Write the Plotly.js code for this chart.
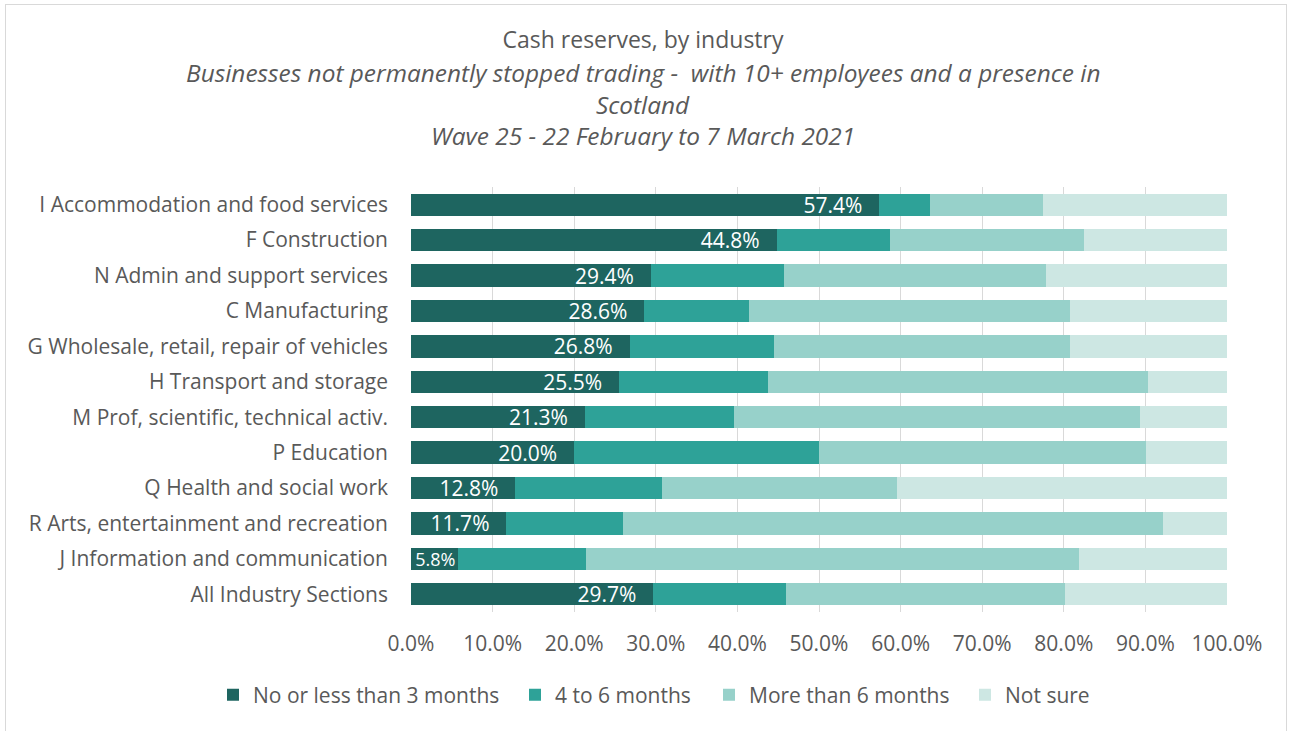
<!DOCTYPE html>
<html>
<head>
<meta charset="utf-8">
<script src="https://cdn.plot.ly/plotly-3.0.1.min.js"></script>
<style>
  html, body { margin: 0; padding: 0; background: #ffffff; overflow: hidden; }
  #frame { position: absolute; left: 5px; top: 4px; width: 1282px; height: 740px; border: 1px solid #d9d9d9; box-sizing: border-box; }
  #chart { position: absolute; left: 0; top: 0; width: 1292px; height: 731px; }
</style>
</head>
<body>
<div id="frame"></div>
<div id="chart"></div>
<script>
const categories = [
  "I Accommodation and food services",
  "F Construction",
  "N Admin and support services",
  "C Manufacturing",
  "G Wholesale, retail, repair of vehicles",
  "H Transport and storage",
  "M Prof, scientific, technical activ.",
  "P Education",
  "Q Health and social work",
  "R Arts, entertainment and recreation",
  "J Information and communication",
  "All Industry Sections"
];
const seriesNames = ["No or less than 3 months", "4 to 6 months", "More than 6 months", "Not sure"];
const lessThan3 = [57.4, 44.8, 29.4, 28.6, 26.8, 25.5, 21.3, 20.0, 12.8, 11.7, 5.8, 29.7];
const fourToSix = [6.2, 13.9, 16.3, 12.8, 17.7, 18.3, 18.3, 30.0, 17.9, 14.3, 15.6, 16.3];
const moreThan6 = [13.8, 23.8, 32.1, 39.3, 36.2, 46.5, 49.7, 40.1, 28.9, 66.2, 60.5, 34.2];
const notSure  = [22.6, 17.5, 22.2, 19.3, 19.3, 9.7, 10.7, 9.9, 40.4, 7.8, 18.1, 19.8];
const xTicks = [0, 10, 20, 30, 40, 50, 60, 70, 80, 90, 100];

const colors = ["#1e6560", "#2ea298", "#97d1ca", "#cde7e3"];
const FONT = "'Open Sans', Lato, sans-serif";
const GREY = "#595959";
const legendLeft = [213, 515, 709, 965];
const legendIds = ["legend", "legend2", "legend3", "legend4"];

const values = [lessThan3, fourToSix, moreThan6, notSure];
const traces = values.map((v, i) => {
  const t = {
    type: "bar",
    orientation: "h",
    name: seriesNames[i],
    legend: legendIds[i],
    y: categories,
    x: v,
    marker: { color: colors[i], line: { width: 0 } },
    hoverinfo: "x+name",
    cliponaxis: false
  };
  if (i === 0) {
    // label padded from the bar end, except where the bar is too short
    t.texttemplate = v.map(x => x < 8 ? "%{x:.1f}%" : "%{x:.1f}%\u2002\u2009");
    t.textposition = "inside";
    t.insidetextanchor = "end";
    t.constraintext = "none";
    t.textfont = { color: "#ffffff", size: v.map(x => x < 8 ? 18 : 21), family: FONT };
  } else {
    t.textposition = "none";
  }
  return t;
});

const layout = {
  width: 1292,
  height: 731,
  paper_bgcolor: "rgba(0,0,0,0)",
  plot_bgcolor: "rgba(0,0,0,0)",
  margin: { l: 411, r: 65, t: 187, b: 119, pad: 0 },
  barmode: "stack",
  bargap: 0.37,
  font: { family: FONT, color: GREY, size: 20 },
  title: {
    text: "Cash reserves, by industry",
    font: { family: FONT, size: 23, color: GREY },
    x: 643 / 1292, xanchor: "center", xref: "container",
    y: 1 - 40 / 731, yanchor: "middle", yref: "container"
  },
  annotations: [
    { text: "<i>Businesses not permanently stopped trading -  with 10+ employees and a presence in</i>", y: (612 - 72) / 425 },
    { text: "<i>Scotland</i>", y: (612 - 104) / 425 },
    { text: "<i>Wave 25 - 22 February to 7 March 2021</i>", y: (612 - 136) / 425 }
  ].map(a => Object.assign({
    xref: "paper", yref: "paper", x: (643 - 411) / 816, xanchor: "center", yanchor: "middle",
    showarrow: false, font: { family: FONT, size: 24.4, color: GREY }
  }, a)),
  xaxis: {
    range: [0, 100],
    tickvals: xTicks,
    ticktext: xTicks.map(v => v.toFixed(1) + "%"),
    showgrid: true,
    gridcolor: "#d9d9d9",
    gridwidth: 1,
    zeroline: false,
    showline: false,
    ticks: "",
    ticklabelstandoff: 17,
    tickfont: { family: FONT, size: 21, color: GREY },
    fixedrange: true
  },
  yaxis: {
    autorange: "reversed",
    showgrid: false,
    zeroline: false,
    showline: false,
    ticks: "",
    ticklabelstandoff: 22,
    tickfont: { family: FONT, size: 21, color: GREY },
    fixedrange: true
  },
  showlegend: true
};
legendIds.forEach((id, i) => {
  layout[id] = {
    orientation: "h",
    xref: "container", yref: "container",
    x: legendLeft[i] / 1292, xanchor: "left",
    y: 36 / 731, yanchor: "middle",
    font: { family: FONT, size: 21, color: GREY },
    itemwidth: 30,
    bgcolor: "rgba(0,0,0,0)"
  };
});

Plotly.newPlot("chart", traces, layout, { displayModeBar: false, staticPlot: true });
</script>
</body>
</html>
